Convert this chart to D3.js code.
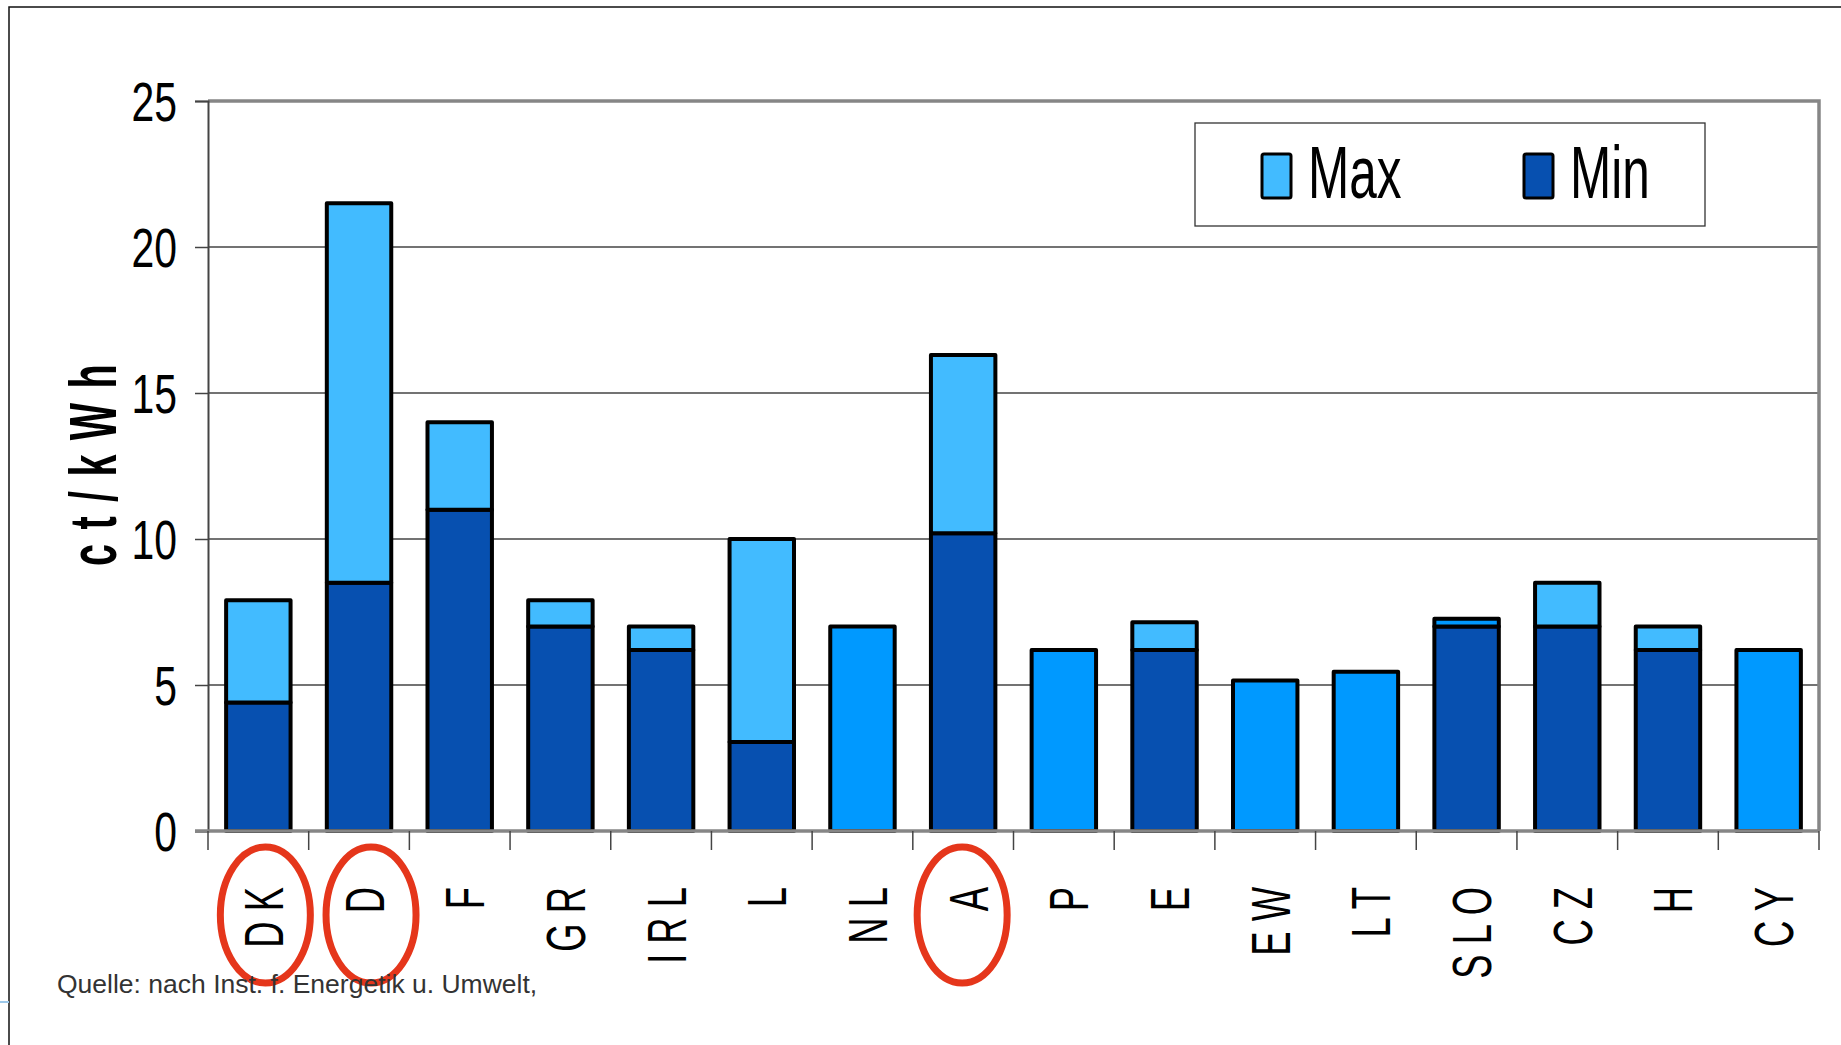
<!DOCTYPE html>
<html>
<head>
<meta charset="utf-8">
<script src="https://cdn.jsdelivr.net/npm/d3@7"></script>
<style>
  html, body { margin: 0; padding: 0; background: #fff; }
  svg { display: block; }
  text { font-family: "Liberation Sans", Arial, sans-serif; }
</style>
</head>
<body>
<svg id="chart" width="1841" height="1045"></svg>
<script>
// ---- Data ----
const categories = ["DK","D","F","GR","IRL","L","NL","A","P","E","EW","LT","SLO","CZ","H","CY"];
const minValues  = [4.4, 8.5, 11.0, 7.0, 6.2, 3.05, null, 10.2, null, 6.2, null, null, 7.0, 7.0, 6.2, null];
const maxValues  = [7.9, 21.5, 14.0, 7.9, 7.0, 10.0, null, 16.3, null, 7.15, null, null, null, 8.5, 7.0, null];
const singleValues = [null, null, null, null, null, null, 7.0, null, 6.2, null, 5.15, 5.45, 7.27, null, null, 6.2];
const yTicks = [0, 5, 10, 15, 20, 25];
const legendItems = ["Max", "Min"];
const highlighted = ["DK", "D", "A"];
const yTitle = "ct/kWh";
const sourceText = "Quelle: nach Inst. f. Energetik u. Umwelt,";

// ---- Styles ----
const colMin = "#0750B0", colMax = "#42BBFF", colSingle = "#0099FF";

const svg = d3.select("#chart");
const pLeft = 208, pRight = 1819, pTop = 101, pBottom = 831;

const x = d3.scaleBand().domain(categories).range([pLeft, pRight]).paddingInner(0.36).paddingOuter(0.18);
const y = d3.scaleLinear().domain([0, 25]).range([pBottom, pTop]);

// outer frame
svg.append("path").attr("d", `M9,1045 L9,7 L1841,7`).attr("fill","none").attr("stroke","#111").attr("stroke-width",1.5);
svg.append("line").attr("x1",0).attr("x2",9).attr("y1",1002).attr("y2",1002).attr("stroke","#9cc8ea").attr("stroke-width",2);

// gridlines
svg.append("g").selectAll("line").data(yTicks.filter(t => t > 0 && t < 25)).join("line")
  .attr("x1", pLeft).attr("x2", pRight).attr("y1", d => y(d)).attr("y2", d => y(d))
  .attr("stroke", "#444").attr("stroke-width", 1.3);

// plot border top & right (gray)
svg.append("path").attr("d", `M${pLeft},${y(25)} L${pRight},${y(25)} L${pRight},${pBottom}`)
  .attr("fill","none").attr("stroke","#868686").attr("stroke-width",3.5);

// y axis
const yAxis = svg.append("g").attr("transform", `translate(${pLeft},0)`)
  .call(d3.axisLeft(y).tickValues(yTicks).tickSize(13).tickFormat(d3.format("d")));
yAxis.select(".domain").attr("stroke","#444").attr("stroke-width",2);
yAxis.selectAll(".tick line").attr("stroke","#444").attr("stroke-width",1.5);
yAxis.selectAll(".tick text")
  .attr("x", null).attr("dy", null)
  .attr("transform", "translate(-31,19) scale(0.73,1)")
  .attr("text-anchor","end").attr("font-size", 56).attr("fill","#000")
  .attr("font-family", "'Liberation Sans', Arial, sans-serif");

// bars
const g = svg.append("g");
categories.forEach((c, i) => {
  const bx = x(c), bw = x.bandwidth();
  const segs = [];
  if (minValues[i] != null) segs.push({y0: 0, y1: minValues[i], col: colMin});
  if (singleValues[i] != null) segs.push({y0: minValues[i] || 0, y1: singleValues[i], col: colSingle});
  if (maxValues[i] != null) segs.push({y0: minValues[i] || 0, y1: maxValues[i], col: colMax});
  segs.forEach(s => {
    g.append("rect").attr("x", bx).attr("width", bw)
      .attr("y", y(s.y1)).attr("height", y(s.y0) - y(s.y1))
      .attr("fill", s.col).attr("stroke", "#000").attr("stroke-width", 4)
      .attr("stroke-linejoin","round");
  });
});

// x axis baseline (gray, thick)
svg.append("line").attr("x1", pLeft - 13).attr("x2", pRight).attr("y1", pBottom).attr("y2", pBottom)
  .attr("stroke","#868686").attr("stroke-width",3.5);

// x axis with labels (band centers) + boundary ticks
const xAxis = svg.append("g").attr("transform", `translate(0,${pBottom})`)
  .call(d3.axisBottom(x).tickSize(0).tickFormat(d => d.split("").join(" ")));
xAxis.select(".domain").remove();
xAxis.selectAll(".tick text")
  .attr("y", null).attr("dy", null)
  .attr("transform", "translate(24.5,56) rotate(-90) scale(0.65,1)")
  .attr("text-anchor","end").attr("font-size", 56).attr("fill","#000")
  .attr("font-family", "'Liberation Sans', Arial, sans-serif");

const half = x.step() * x.paddingInner() / 2;
const bounds = categories.map(c => x(c) - half).concat([pRight]);
bounds[0] = pLeft;
svg.append("g").selectAll("line").data(bounds).join("line")
  .attr("x1", d => d).attr("x2", d => d).attr("y1", pBottom).attr("y2", pBottom + 19)
  .attr("stroke","#444").attr("stroke-width",1.5);

// y title
svg.append("text")
  .attr("transform", "translate(116,566) rotate(-90) scale(0.6,1)")
  .attr("text-anchor","start").attr("font-size", 66).attr("font-weight","bold")
  .attr("letter-spacing", 24).attr("fill","#000")
  .text(yTitle);

// legend
const lg = svg.append("g");
lg.append("rect").attr("x",1195).attr("y",123).attr("width",510).attr("height",103)
  .attr("fill","#fff").attr("stroke","#333").attr("stroke-width",1.3);
const legendCols = [colMax, colMin];
const legendX = [1262, 1524];
legendItems.forEach((name, i) => {
  lg.append("rect").attr("x", legendX[i]).attr("y", 154).attr("width", 29).attr("height", 44)
    .attr("rx", 2).attr("fill", legendCols[i]).attr("stroke","#000").attr("stroke-width",3);
  lg.append("text").attr("transform", `translate(${legendX[i] + 46},198) scale(0.66,1)`)
    .attr("font-size", 75).attr("fill","#000").text(name);
});

// highlight ellipses
svg.append("g").selectAll("ellipse").data(highlighted).join("ellipse")
  .attr("cx", d => x(d) + x.bandwidth()/2 + ({DK: 7, D: 12, A: -1})[d])
  .attr("cy", 915).attr("rx", 45).attr("ry", 68)
  .attr("fill","none").attr("stroke","#E5361B").attr("stroke-width",7);

// source
svg.append("text").attr("x", 57).attr("y", 993).attr("font-size", 26.5).attr("fill","#333")
  .text(sourceText);
</script>
</body>
</html>
